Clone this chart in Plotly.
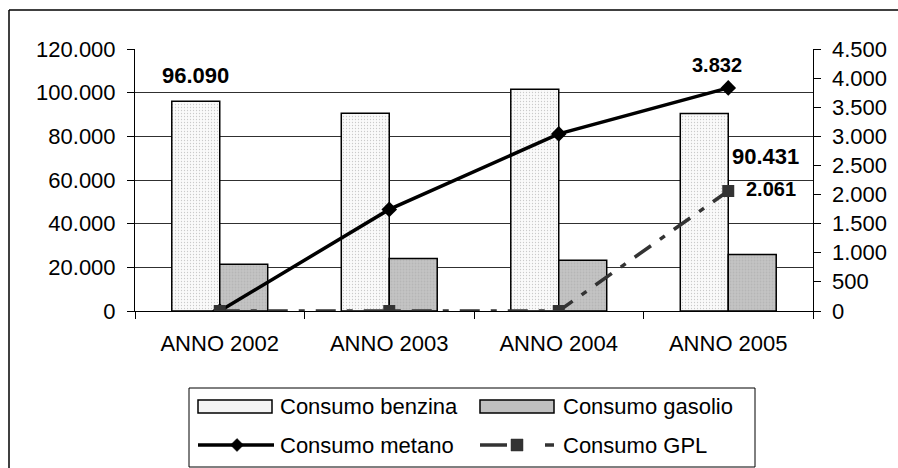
import plotly.graph_objects as go

# Consumi annuali per tipologia di carburante
categorie = ["ANNO 2002", "ANNO 2003", "ANNO 2004", "ANNO 2005"]
benzina = [96090, 90600, 101600, 90431]
gasolio = [21400, 24000, 23300, 25900]
metano = [0, 1745, 3042, 3832]
gpl = [0, 0, 0, 2061]

y_left_ticks = [0, 20000, 40000, 60000, 80000, 100000, 120000]
y_right_ticks = [0, 500, 1000, 1500, 2000, 2500, 3000, 3500, 4000, 4500]

nomi = ["Consumo benzina", "Consumo gasolio", "Consumo metano", "Consumo GPL"]

FONT = "Liberation Sans, Arial, sans-serif"
FS = 22
W, H = 898, 468
ML, MR, MT, MB = 135, 85, 49, 157
PW, PH = W - ML - MR, H - MT - MB

COL_BENZ = "#f4f4f4"
COL_GAS = "#c0c0c0"
COL_MET = "black"
COL_GPL = "#333333"


def fmt(v):
    return f"{v:,.0f}".replace(",", ".")


def px_x(p):
    return (p - ML) / PW


def px_y(p):
    return (H - MB - p) / PH


fig = go.Figure()

fig.add_trace(go.Bar(
    name=nomi[0], x=categorie, y=benzina,
    marker=dict(color="white", line=dict(color="black", width=1.5),
                pattern=dict(shape=".", fgcolor="#9a9a9a", bgcolor="#fafafa",
                             size=3, solidity=0.15)),
))
fig.add_trace(go.Bar(
    name=nomi[1], x=categorie, y=gasolio,
    marker=dict(color=COL_GAS, line=dict(color="black", width=1.5),
                pattern=dict(shape=".", fgcolor="#a8a8a8", bgcolor="#c4c4c4",
                             size=3, solidity=0.3)),
))
fig.add_trace(go.Scatter(
    name=nomi[2], x=categorie, y=metano, yaxis="y2",
    mode="lines+markers",
    line=dict(color=COL_MET, width=3.5),
    marker=dict(symbol="diamond", size=12, color=COL_MET),
))
fig.add_trace(go.Scatter(
    name=nomi[3], x=categorie, y=gpl, yaxis="y2",
    mode="lines+markers",
    line=dict(color=COL_GPL, width=3.5, dash="20px,11px,6px,11px"),
    marker=dict(symbol="square", size=12, color=COL_GPL),
))

# etichette dei valori (barre più grandi, linee leggermente più piccole)
bold_big = dict(family=FONT, size=FS, color="black")
bold_small = dict(family=FONT, size=20, color="black")
annotations = [
    dict(x=-0.1416, y=benzina[0], xref="x", yref="y", text=f"<b>{fmt(benzina[0])}</b>",
         showarrow=False, yanchor="middle", yshift=26, font=bold_big),
    dict(x=3, y=benzina[3], xref="x", yref="y", text=f"<b>{fmt(benzina[3])}</b>",
         showarrow=False, xanchor="left", yanchor="middle", xshift=2, yshift=-43,
         font=bold_big),
    dict(x=3, y=metano[3], xref="x", yref="y2", text=f"<b>{fmt(metano[3])}</b>",
         showarrow=False, yanchor="middle", xshift=-11, yshift=23, font=bold_small),
    dict(x=3, y=gpl[3], xref="x", yref="y2", text=f"<b>{fmt(gpl[3])}</b>",
         showarrow=False, xanchor="left", yanchor="middle", xshift=16, yshift=2,
         font=bold_small),
]

plain = dict(family=FONT, size=FS, color="black")

# etichette dell'asse destro, staccate dalle tacche
for v in y_right_ticks:
    annotations.append(dict(x=1, y=v, xref="paper", yref="y2", text=fmt(v),
                            showarrow=False, xanchor="left", yanchor="middle",
                            xshift=17, font=plain))

# legenda su due righe, con campioni larghi
ROW1, ROW2 = 406.5, 445.0
COL1_SW, COL2_SW = 198, 480
SW_W = 74
COL1_TX, COL2_TX = 278, 561

for nome, cx, cy in [(nomi[0], COL1_TX, ROW1), (nomi[1], COL2_TX, ROW1),
                     (nomi[2], COL1_TX, ROW2), (nomi[3], COL2_TX, ROW2)]:
    annotations.append(dict(x=px_x(cx), y=px_y(cy), xref="paper", yref="paper",
                            text=nome, showarrow=False, xanchor="left", yanchor="middle",
                            font=plain))


def rect(x0, y0, x1, y1, fill, lw=1.5, lc="black"):
    return dict(type="rect", xref="paper", yref="paper",
                x0=px_x(x0), x1=px_x(x1), y0=px_y(y0), y1=px_y(y1),
                fillcolor=fill, line=dict(color=lc, width=lw), layer="above")


def seg(x0, y0, x1, y1, color, width, dash="solid"):
    return dict(type="line", xref="paper", yref="paper",
                x0=px_x(x0), x1=px_x(x1), y0=px_y(y0), y1=px_y(y1),
                line=dict(color=color, width=width, dash=dash), layer="above")


def diamond(cx, cy, r, color):
    pts = [(cx, cy - r), (cx + r, cy), (cx, cy + r), (cx - r, cy)]
    d = "M " + " L ".join(f"{px_x(x):.5f},{px_y(y):.5f}" for x, y in pts) + " Z"
    return dict(type="path", xref="paper", yref="paper", path=d,
                fillcolor=color, line=dict(color=color, width=0.5), layer="above")


shapes = [
    # cornice esterna del grafico (lati destro e inferiore fuori pagina)
    seg(9, 10, W, 10, "black", 1.5),
    seg(9, 10, 9, H, "black", 1.5),
    # riquadro della legenda
    rect(189, 388, 755, 467, "white", lw=1),
    rect(COL1_SW, ROW1 - 6.5, COL1_SW + SW_W, ROW1 + 6.5, COL_BENZ),
    rect(COL2_SW, ROW1 - 6.5, COL2_SW + SW_W, ROW1 + 6.5, COL_GAS),
    seg(COL1_SW, ROW2, COL1_SW + SW_W + 2, ROW2, COL_MET, 3.5),
    diamond(COL1_SW + 39, ROW2, 6.5, COL_MET),
    seg(COL2_SW, ROW2, COL2_SW + 27, ROW2, COL_GPL, 3.5),
    rect(COL2_SW + 31, ROW2 - 6, COL2_SW + 43, ROW2 + 6, COL_GPL, lw=0.5, lc=COL_GPL),
    seg(COL2_SW + 65, ROW2, COL2_SW + 74, ROW2, COL_GPL, 3.5),
]

fig.update_layout(
    width=W, height=H,
    margin=dict(l=ML, r=MR, t=MT, b=MB, pad=0, autoexpand=False),
    paper_bgcolor="white", plot_bgcolor="white",
    font=plain,
    separators=",.",
    barmode="group", bargap=0.434, bargroupgap=0,
    showlegend=False,
    xaxis=dict(
        type="category", showgrid=False, showline=True, linecolor="black", linewidth=1,
        ticks="outside", ticklen=7, tickcolor="black", tickson="boundaries",
        ticklabelstandoff=13, automargin=False, tickfont=plain,
    ),
    yaxis=dict(
        range=[0, 120000], tickvals=y_left_ticks, tickformat=",d",
        showgrid=True, gridcolor="#303030", gridwidth=1,
        showline=True, linecolor="black", linewidth=1,
        ticks="outside", ticklen=7, tickcolor="black",
        ticklabelstandoff=7, zeroline=False, automargin=False, tickfont=plain,
    ),
    yaxis2=dict(
        range=[0, 4500], tickvals=y_right_ticks, showticklabels=False,
        overlaying="y", side="right", showgrid=False,
        showline=True, linecolor="black", linewidth=1,
        ticks="outside", ticklen=7, tickcolor="black",
        zeroline=False, automargin=False,
    ),
    annotations=annotations,
    shapes=shapes,
)

fig.write_html("out.html", config={"displayModeBar": False},
               post_script="document.body.style.margin='0';document.body.style.overflow='hidden';")
